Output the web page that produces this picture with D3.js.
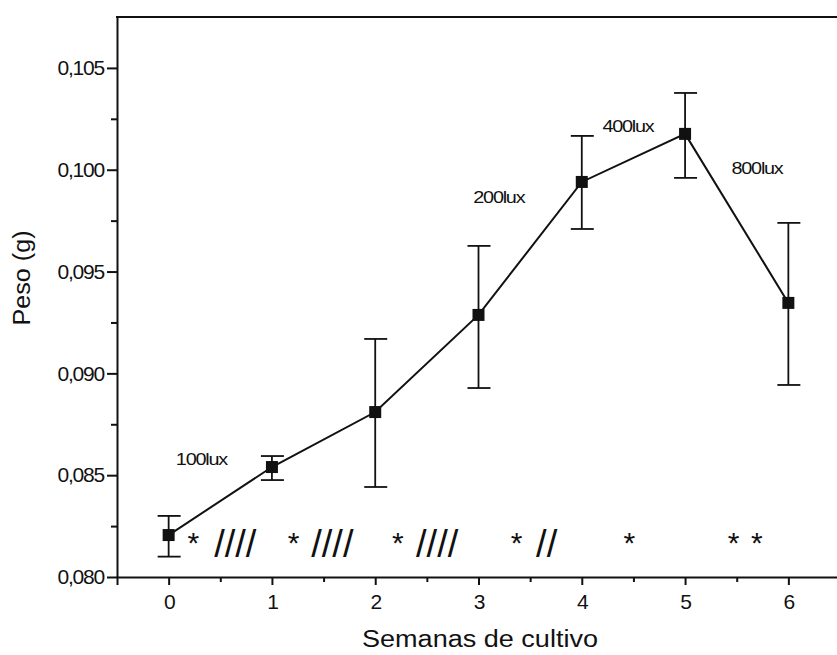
<!DOCTYPE html>
<html>
<head>
<meta charset="utf-8">
<script src="https://cdn.jsdelivr.net/npm/d3@7/dist/d3.min.js"></script>
<style>
  html, body { margin: 0; padding: 0; background: #fff; }
  svg { display: block; }
  text { font-family: "Liberation Sans", Arial, sans-serif; fill: #111; }
</style>
</head>
<body>
<svg id="chart" width="837" height="655"></svg>
<script>
// ---- data ----
const weeks = [0, 1, 2, 3, 4, 5, 6];
const weight = [0.08206, 0.0854, 0.0881, 0.09287, 0.0994, 0.10176, 0.09346];
const errUpper = [0.0830, 0.08594, 0.09169, 0.09626, 0.10166, 0.10377, 0.09739];
const errLower = [0.0810, 0.08476, 0.08442, 0.08928, 0.09709, 0.0996, 0.08943];

const yTicks = [0.080, 0.085, 0.090, 0.095, 0.100, 0.105];
const yMinorTicks = [0.0825, 0.0875, 0.0925, 0.0975, 0.1025];
const xTicks = [0, 1, 2, 3, 4, 5, 6];
const xMinorTicks = [0.5, 1.5, 2.5, 3.5, 4.5, 5.5];

const luxLabels = ["100lux", "200lux", "400lux", "800lux"];
const luxX = [0.07, 2.95, 4.2, 5.45];
const luxY = [0.08551, 0.09837, 0.10187, 0.09981];

const annoText = ["*", "////", "*", "////", "*", "////", "*", "//", "*", "*", "*"];
const annoX = [0.24, 0.645, 1.21, 1.585, 2.22, 2.6, 3.37, 3.66, 4.46, 5.47, 5.695];

const xLabel = "Semanas de cultivo";
const yLabel = "Peso (g)";

// ---- chart ----
const svg = d3.select("#chart");
const x = d3.scaleLinear().domain([-0.5, 6.5]).range([117, 840]);
const y = d3.scaleLinear().domain([0.080, 0.1075]).range([577, 17]);
const fmt = v => d3.format(".3f")(v).replace(".", ",");
const ink = "#111";

// frame top & right
svg.append("line").attr("x1", x(-0.5) - 1).attr("x2", x(6.5)).attr("y1", y(0.1075)).attr("y2", y(0.1075))
  .attr("stroke", ink).attr("stroke-width", 2);
svg.append("line").attr("x1", x(6.5)).attr("x2", x(6.5)).attr("y1", y(0.1075)).attr("y2", y(0.080))
  .attr("stroke", ink).attr("stroke-width", 2);

// y axis
svg.append("g").attr("transform", `translate(${x(-0.5)},0)`)
  .call(d3.axisLeft(y).tickValues(yTicks).tickFormat(fmt).tickSize(10).tickSizeOuter(0).tickPadding(3));
svg.append("g").attr("transform", `translate(${x(-0.5)},0)`)
  .call(d3.axisLeft(y).tickValues(yMinorTicks).tickFormat("").tickSize(6))
  .select(".domain").remove();
// x axis
svg.append("g").attr("transform", `translate(0,${y(0.080)})`)
  .call(d3.axisBottom(x).tickValues(xTicks).tickFormat(d3.format("d")).tickSize(8).tickPadding(9));
svg.append("g").attr("transform", `translate(0,${y(0.080)})`)
  .call(d3.axisBottom(x).tickValues(xMinorTicks).tickFormat("").tickSize(5))
  .select(".domain").remove();

svg.selectAll(".domain").attr("stroke", ink).attr("stroke-width", 2);
svg.selectAll(".tick line").attr("stroke", ink).attr("stroke-width", 2);
svg.selectAll(".tick text").style("font-size", "21px").attr("fill", ink)
  .style("font-family", "'Liberation Sans', Arial, sans-serif").style("letter-spacing", "-1.2px");

// line
svg.append("path")
  .datum(weeks.map((w, i) => [w, weight[i]]))
  .attr("fill", "none").attr("stroke", ink).attr("stroke-width", 2)
  .attr("d", d3.line().x(d => x(d[0])).y(d => y(d[1])));

// error bars
const eb = svg.append("g").attr("stroke", ink).attr("stroke-width", 1.8);
weeks.forEach((w, i) => {
  eb.append("line").attr("x1", x(w)).attr("x2", x(w)).attr("y1", y(errUpper[i])).attr("y2", y(errLower[i]));
  eb.append("line").attr("x1", x(w) - 11).attr("x2", x(w) + 12).attr("y1", y(errUpper[i])).attr("y2", y(errUpper[i]));
  eb.append("line").attr("x1", x(w) - 11).attr("x2", x(w) + 12).attr("y1", y(errLower[i])).attr("y2", y(errLower[i]));
});

// markers
svg.append("g").selectAll("rect").data(weeks).join("rect")
  .attr("x", (d) => x(d) - 6).attr("y", (d, i) => y(weight[i]) - 6)
  .attr("width", 12).attr("height", 12).attr("fill", "#111");

// lux labels
svg.append("g").selectAll("text").data(luxLabels).join("text")
  .attr("x", (d, i) => x(luxX[i])).attr("y", (d, i) => y(luxY[i]))
  .attr("textLength", 51).attr("lengthAdjust", "spacingAndGlyphs")
  .style("font-size", "16px").style("letter-spacing", "-1px")
  .text(d => d);

// significance annotations
svg.append("g").selectAll("text").data(annoText).join("text")
  .attr("x", (d, i) => x(annoX[i])).attr("text-anchor", "middle")
  .attr("y", d => d === "*" ? 553 : 557)
  .style("font-size", d => d === "*" ? "30px" : "38px")
  .text(d => d);

// axis labels
svg.append("text").attr("x", 480).attr("y", 647).attr("text-anchor", "middle")
  .attr("textLength", 236).attr("lengthAdjust", "spacingAndGlyphs")
  .style("font-size", "23px").text(xLabel);
svg.append("text").attr("transform", "translate(30,278) rotate(-90)").attr("text-anchor", "middle")
  .attr("textLength", 95).attr("lengthAdjust", "spacingAndGlyphs")
  .style("font-size", "23px").text(yLabel);
</script>
</body>
</html>
